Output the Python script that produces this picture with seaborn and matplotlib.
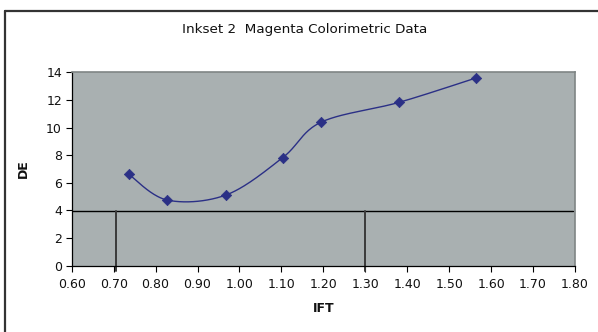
import numpy as np
import pandas as pd
import matplotlib
matplotlib.use("Agg")
import matplotlib.pyplot as plt
from matplotlib.lines import Line2D
import seaborn as sns

# ---- data ----
ift = [0.736, 0.828, 0.968, 1.103, 1.194, 1.380, 1.565]
de = [6.62, 4.75, 5.12, 7.82, 10.38, 11.82, 13.60]
limit_de = 3.95
limit_ift = [0.705, 1.30]
x_ticks = [0.60, 0.70, 0.80, 0.90, 1.00, 1.10, 1.20, 1.30, 1.40, 1.50, 1.60, 1.70, 1.80]
y_ticks = [0, 2, 4, 6, 8, 10, 12, 14]
title = "Inkset 2  Magenta Colorimetric Data"


def smooth_curve(xs, ys, n=40):
    """Excel-like smoothed line (Catmull-Rom Bezier) through the points."""
    P = np.column_stack([xs, ys]).astype(float)
    ext = np.vstack([P[0], P, P[-1]])
    out = []
    for i in range(1, len(ext) - 2):
        p0, p1, p2, p3 = ext[i - 1], ext[i], ext[i + 1], ext[i + 2]
        c1 = p1 + (p2 - p0) / 6.0
        c2 = p2 - (p3 - p1) / 6.0
        t = np.linspace(0, 1, n)[:, None]
        seg = ((1 - t) ** 3) * p1 + 3 * ((1 - t) ** 2) * t * c1 + 3 * (1 - t) * t ** 2 * c2 + t ** 3 * p2
        out.append(seg if i == 1 else seg[1:])
    s = np.vstack(out)
    return s[:, 0], s[:, 1]


sns.set_theme(style="white")
plt.rcParams['font.family'] = ['DejaVu Sans']
plt.rcParams['text.color'] = '#111111'
plt.rcParams['axes.labelcolor'] = '#111111'
plt.rcParams['xtick.color'] = '#111111'
plt.rcParams['ytick.color'] = '#111111'

fig = plt.figure(figsize=(5.98, 3.32), dpi=100)
ax = fig.add_axes([71.7 / 598, 1 - 265.7 / 332, (575 - 71.7) / 598, (265.7 - 72.3) / 332])
ax.set_facecolor("#a9b0b1")

navy = "#2b3086"
sx, sy = smooth_curve(ift, de)
curve = pd.DataFrame({"IFT": sx, "DE": sy})
pts = pd.DataFrame({"IFT": ift, "DE": de})
sns.lineplot(data=curve, x="IFT", y="DE", ax=ax, sort=False, color=navy, lw=1.0, zorder=3)
sns.scatterplot(data=pts, x="IFT", y="DE", ax=ax, marker="D", s=28, color=navy,
                edgecolor=navy, linewidth=0.5, zorder=4)

# reference lines
ax.plot([0.60, 1.795], [limit_de, limit_de], color="black", lw=1.0, zorder=2)
for xv in limit_ift:
    ax.plot([xv, xv], [-0.35, limit_de], color="#3a3a3a", lw=1.4, zorder=2, clip_on=False)

ax.set_xlim(0.60, 1.80)
ax.set_ylim(0, 14)
ax.set_xticks(x_ticks)
ax.set_xticklabels([f"{v:.2f}" for v in x_ticks])
ax.set_yticks(y_ticks)
ax.set_yticklabels([str(v) for v in y_ticks])
ax.tick_params(axis="both", which="both", direction="out", length=4, width=0.8,
               color="black", labelsize=9, pad=3, bottom=True, left=True)
ax.tick_params(axis="x", pad=5)

for side in ["left", "bottom"]:
    ax.spines[side].set_color("black")
    ax.spines[side].set_linewidth(0.9)
for side in ["top", "right"]:
    ax.spines[side].set_color("#7f8585")
    ax.spines[side].set_linewidth(1.2)

ax.set_xlabel("IFT", fontsize=9, fontweight="bold", labelpad=8)
ax.set_ylabel("DE", fontsize=9, fontweight="bold", labelpad=12)
fig.text(305 / 598, 1 - 29 / 332, title, ha="center", va="center", fontsize=9.7)

# chart frame
fl = 5 / 598
ft = 1 - 11 / 332
fig.add_artist(Line2D([fl, fl], [0, ft], color="#333333", lw=1.6, transform=fig.transFigure))
fig.add_artist(Line2D([fl, 1], [ft, ft], color="#333333", lw=1.6, transform=fig.transFigure))

fig.savefig("out.png", dpi=100, facecolor="white")
